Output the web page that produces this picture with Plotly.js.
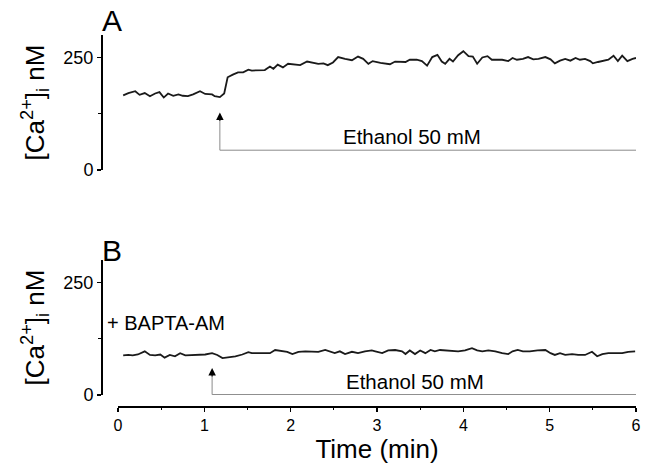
<!DOCTYPE html>
<html>
<head>
<meta charset="utf-8">
<script src="https://cdn.plot.ly/plotly-3.0.1.min.js"></script>
<style>html,body{margin:0;padding:0;background:#fff;}#chart{width:649px;height:467px;}</style>
</head>
<body>
<div id="chart"></div>
<script>
// Panel A: ethanol alone
const timeA = [0.06,0.12,0.20,0.25,0.31,0.37,0.43,0.48,0.53,0.58,0.64,0.70,0.75,0.81,0.87,0.95,1.01,1.09,1.12,1.18,1.23,1.27,1.33,1.39,1.45,1.51,1.55,1.65,1.70,1.76,1.80,1.85,1.91,1.97,2.05,2.11,2.19,2.25,2.32,2.38,2.43,2.49,2.55,2.63,2.71,2.78,2.84,2.90,2.95,3.04,3.09,3.15,3.21,3.27,3.33,3.38,3.46,3.52,3.58,3.64,3.70,3.75,3.79,3.84,3.88,3.94,4.00,4.06,4.11,4.16,4.22,4.28,4.33,4.39,4.45,4.52,4.57,4.62,4.69,4.75,4.81,4.87,4.95,5.01,5.06,5.12,5.18,5.24,5.30,5.35,5.41,5.47,5.50,5.56,5.62,5.68,5.74,5.79,5.84,5.90,5.96,6.00];
const caA   = [166,171,175,167,171,164,170,173,161,170,165,168,165,164,168,175,169,168,164,162,170,206,212,217,217,223,221,222,222,230,225,234,228,236,235,233,241,238,236,237,233,239,251,247,244,252,247,236,242,238,236,235,241,241,240,245,245,242,232,251,256,241,236,247,241,255,264,253,252,236,250,253,245,245,245,242,249,245,247,251,246,247,251,246,237,243,247,243,249,245,247,242,237,240,242,245,254,242,254,242,247,249];

// Panel B: ethanol after BAPTA-AM loading
const timeB = [0.06,0.12,0.17,0.23,0.31,0.37,0.43,0.49,0.54,0.60,0.66,0.72,0.78,0.86,0.93,1.01,1.09,1.15,1.21,1.27,1.36,1.44,1.51,1.55,1.62,1.70,1.76,1.82,1.90,1.96,2.02,2.09,2.17,2.25,2.32,2.40,2.46,2.51,2.57,2.63,2.71,2.78,2.86,2.94,2.98,3.06,3.13,3.21,3.29,3.33,3.38,3.44,3.50,3.56,3.62,3.67,3.73,3.81,3.87,3.94,4.02,4.10,4.16,4.22,4.29,4.37,4.45,4.52,4.57,4.63,4.69,4.77,4.86,4.95,5.01,5.06,5.12,5.18,5.26,5.33,5.41,5.49,5.55,5.61,5.68,5.76,5.84,5.91,5.99];
const caB   = [88,89,88,90,97,89,88,90,83,89,86,93,88,89,89,90,93,89,82,83,86,90,95,93,93,93,93,100,97,96,91,96,97,96,96,100,97,93,97,91,96,93,97,99,97,93,99,100,97,91,99,91,99,93,100,97,100,99,97,97,99,104,99,97,99,97,93,91,97,100,97,97,99,100,93,89,93,89,91,89,89,96,86,91,93,93,93,96,97];

const stimTime = [1.18, 1.09];      // ethanol application (min)
const stimLabel = "Ethanol 50 mM";
const yTicks = [0, 250];
const yTickText = ["0", "250"];
const xTicks = [0, 1, 2, 3, 4, 5, 6];

const FONT = "Liberation Sans, Arial, sans-serif";
const traceLine = {color: "#1a1a1a", width: 1.8};

const data = [
  {x: timeA, y: caA, type: "scatter", mode: "lines", line: traceLine, xaxis: "x2", yaxis: "y2", hoverinfo: "skip"},
  {x: timeB, y: caB, type: "scatter", mode: "lines", line: traceLine, xaxis: "x", yaxis: "y", hoverinfo: "skip"}
];

const yCommon = {
  range: [0, 300], tickvals: yTicks, ticktext: yTickText,
  ticks: "outside", ticklen: 4, tickwidth: 1.2, tickcolor: "#000",
  showline: true, linecolor: "#000", linewidth: 1.5,
  showgrid: false, zeroline: false,
  minor: {tickvals: [125], ticks: "outside", ticklen: 3, tickcolor: "#000", tickwidth: 1, showgrid: false},
  tickfont: {family: FONT, size: 18, color: "#000"},
  anchor: "free", position: 0, automargin: false,
  title: {text: "[Ca<sup>2+</sup>]<sub>i</sub> nM", font: {family: FONT, size: 26, color: "#000"}, standoff: 10}
};

const layout = {
  width: 649, height: 467,
  margin: {l: 101, r: 13, t: 35, b: 61},
  paper_bgcolor: "#fff", plot_bgcolor: "#fff",
  showlegend: false,
  font: {family: FONT, color: "#000"},
  xaxis: {
    domain: [17/535, 1], range: [0, 6], anchor: "free", position: 0,
    tickvals: xTicks, ticks: "outside", ticklen: 4, tickwidth: 1.2, tickcolor: "#000",
    showline: true, linecolor: "#000", linewidth: 1.6,
    showgrid: false, zeroline: false,
    minor: {dtick: 0.5, tick0: 0, ticks: "outside", ticklen: 2.5, tickcolor: "#000", tickwidth: 1, showgrid: false},
    tickfont: {family: FONT, size: 16, color: "#000"},
    automargin: false,
    title: {text: "Time (min)", font: {family: FONT, size: 26, color: "#000"}, standoff: 4}
  },
  xaxis2: {domain: [17/535, 1], range: [0, 6], anchor: "y2", visible: false, showgrid: false, zeroline: false},
  yaxis: Object.assign({}, yCommon, {domain: [11/371, 146/371]}),
  yaxis2: Object.assign({}, yCommon, {domain: [236/371, 1]}),
  shapes: [
    {type: "line", xref: "x2", yref: "y2", x0: stimTime[0], x1: stimTime[0], y0: 44, y1: 118, line: {color: "#8a8a8a", width: 1}},
    {type: "line", xref: "x2", yref: "y2", x0: stimTime[0], x1: 6, y0: 44, y1: 44, line: {color: "#8a8a8a", width: 1}},
    {type: "line", xref: "x", yref: "y", x0: stimTime[1], x1: stimTime[1], y0: 1, y1: 52, line: {color: "#8a8a8a", width: 1}},
    {type: "line", xref: "x", yref: "y", x0: stimTime[1], x1: 6, y0: 1, y1: 1, line: {color: "#8a8a8a", width: 1}}
  ],
  annotations: [
    {xref: "x2", yref: "y2", x: stimTime[0], y: 128, ax: 0, ay: 10, showarrow: true, arrowhead: 2, arrowsize: 1.5, arrowwidth: 1, arrowcolor: "#000", text: ""},
    {xref: "x", yref: "y", x: stimTime[1], y: 60, ax: 0, ay: 10, showarrow: true, arrowhead: 2, arrowsize: 1.5, arrowwidth: 1, arrowcolor: "#000", text: ""},
    {xref: "x2", yref: "y2", x: 3.41, y: 44, yanchor: "bottom", showarrow: false, text: stimLabel, font: {family: FONT, size: 20.5, color: "#000"}},
    {xref: "x", yref: "y", x: 3.44, y: 1, yanchor: "bottom", showarrow: false, text: stimLabel, font: {family: FONT, size: 20.5, color: "#000"}},
    {xref: "paper", yref: "y", x: 0.008, y: 161, xanchor: "left", yanchor: "middle", showarrow: false, text: "+ BAPTA-AM", font: {family: FONT, size: 20, color: "#000"}},
    {xref: "paper", yref: "paper", x: -0.002, y: 1.040, xanchor: "left", yanchor: "middle", showarrow: false, text: "A", font: {family: FONT, size: 30, color: "#000"}},
    {xref: "paper", yref: "paper", x: -0.002, y: 0.418, xanchor: "left", yanchor: "middle", showarrow: false, text: "B", font: {family: FONT, size: 30, color: "#000"}}
  ]
};

Plotly.newPlot("chart", data, layout, {staticPlot: true, displayModeBar: false});
</script>
</body>
</html>
